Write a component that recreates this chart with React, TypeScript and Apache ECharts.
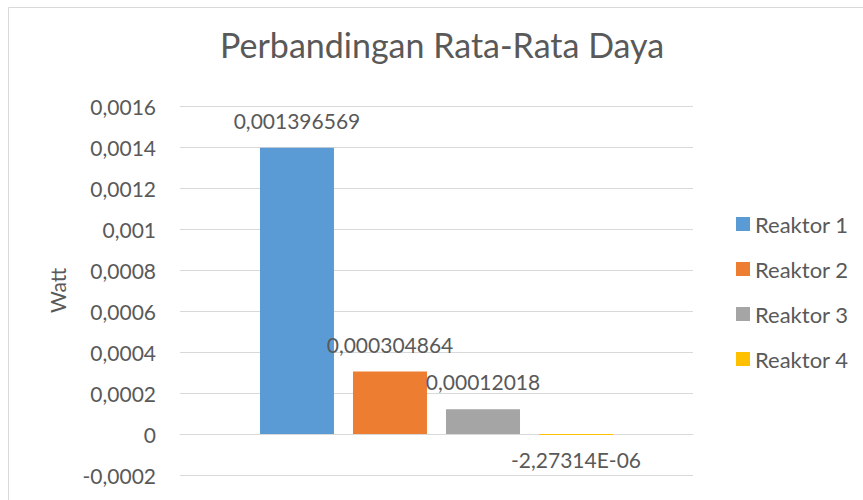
import React, { useEffect, useRef } from "react";
import * as echarts from "echarts";

const title = "Perbandingan Rata-Rata Daya";
const yAxisName = "Watt";
const categories = [""];
const seriesNames = ["Reaktor 1", "Reaktor 2", "Reaktor 3", "Reaktor 4"];
const seriesValues = [0.001396569, 0.000304864, 0.00012018, -2.27314e-6];
const seriesColors = ["#5B9BD5", "#ED7D31", "#A5A5A5", "#FFC000"];
const yMin = -0.0002;
const yMax = 0.0016;
const yInterval = 0.0002;

const FONT = "Lato";
const TEXT = "#595959";
const GRID = "#D9D9D9";

function fmtTick(v: number): string {
  if (Math.abs(v) < 1e-12) return "0";
  return String(Number(v.toPrecision(10))).replace(".", ",");
}

function fmtGeneral(v: number): string {
  if (v !== 0 && Math.abs(v) < 1e-4) {
    const s = v.toExponential(5);
    const [m, e] = s.split("e");
    const sign = e.startsWith("-") ? "-" : "+";
    const digits = e.replace(/^[+-]/, "").padStart(2, "0");
    return m.replace(".", ",") + "E" + sign + digits;
  }
  return String(Number(v.toPrecision(10))).replace(".", ",");
}

export default function App() {
  const ref = useRef<HTMLDivElement>(null);
  useEffect(() => {
    if (!ref.current) return;
    const chart = echarts.init(ref.current, undefined, { renderer: "svg" });
    chart.setOption({
      animation: false,
      backgroundColor: "#fff",
      textStyle: { fontFamily: FONT },
      title: {
        text: title,
        left: 220,
        top: 27,
        padding: 0,
        textStyle: { fontFamily: FONT, fontSize: 34, fontWeight: "normal", color: TEXT },
      },
      graphic: [
        {
          type: "rect",
          shape: { x: 8.5, y: 7.5, width: 1000, height: 800 },
          style: { fill: "none", stroke: GRID, lineWidth: 1 },
          silent: true,
        },
      ],
      legend: {
        orient: "vertical",
        left: 731,
        top: 208,
        itemWidth: 14,
        itemHeight: 14,
        itemGap: 23,
        icon: "rect",
        data: seriesNames,
        textStyle: { fontFamily: FONT, fontSize: 22, color: TEXT },
      },
      grid: { left: 180, right: 170, top: 106, bottom: 25, containLabel: false },
      xAxis: {
        type: "category",
        data: categories,
        axisLine: { show: true, onZero: true, lineStyle: { color: GRID } },
        axisTick: { show: false },
        axisLabel: { show: false },
        splitLine: { show: false },
      },
      yAxis: {
        type: "value",
        min: yMin,
        max: yMax,
        interval: yInterval,
        name: yAxisName,
        nameLocation: "middle",
        nameRotate: 90,
        nameGap: 112,
        nameTextStyle: { fontFamily: FONT, fontSize: 21, color: TEXT },
        axisLine: { show: false },
        axisTick: { show: false },
        axisLabel: {
          margin: 24,
          fontFamily: FONT,
          fontSize: 21,
          color: TEXT,
          formatter: (v: number) => fmtTick(v),
        },
        splitLine: { show: true, lineStyle: { color: GRID, width: 1 } },
      },
      series: seriesNames.map((name, i) => ({
        name,
        type: "bar",
        data: [seriesValues[i]],
        barWidth: 74,
        barGap: "25.7%",
        barMinHeight: 1,
        itemStyle: { color: seriesColors[i] },
        label: {
          show: true,
          position: seriesValues[i] >= 0 ? "top" : "bottom",
          distance: seriesValues[i] >= 0 ? 17 : 14,
          fontFamily: FONT,
          fontSize: 21,
          color: TEXT,
          formatter: (p: any) => fmtGeneral(p.value),
        },
      })),
    });
    return () => chart.dispose();
  }, []);
  return (
    <div
      ref={ref}
      style={{ position: "absolute", left: 0, top: 0, width: 863, height: 500 }}
    />
  );
}
